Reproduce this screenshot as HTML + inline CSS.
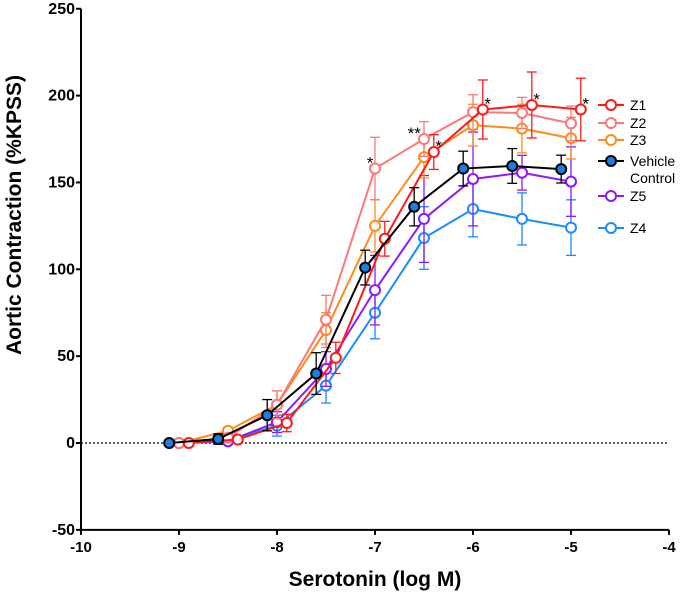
<!DOCTYPE html>
<html><head><meta charset="utf-8"><style>
body{margin:0;background:#fff;}
svg{display:block;font-family:"Liberation Sans",Arial,sans-serif;}
</style></head><body>
<svg id="chart" width="685" height="597" viewBox="0 0 685 597"></svg>
<script>
const xTicks=[-10,-9,-8,-7,-6,-5,-4];
const yTicks=[-50,0,50,100,150,200,250];
const doses=[-9,-8.5,-8,-7.5,-7,-6.5,-6,-5.5,-5];
const seriesNames=["Z1","Z2","Z3","Vehicle","Z5","Z4"];
const seriesColors=["#ff1a1a","#f97a7a","#ff8c1a","#000000","#8a1aff","#1a8cff"];
const seriesOffsets=[0.1,0,0,-0.1,0,0];
const z1Values=[0,2,11.5,49,117.6,167.5,192,194.6,192];
const z2Values=[0,3,22,71,158,175,190.5,190,184];
const z3Values=[0,7,22,65,125,164.6,183,181,175.5];
const vehicleValues=[0,2.3,16,40,101,136,158,159.5,157.7];
const z5Values=[0,1,12,42.6,88,129,152,155.6,150.5];
const z4Values=[0,1,10,33,75,118,134.7,129,124];
const z1Err=[0,1,5,9,10,10,17,19,18];
const z2Err=[0,2,8,14,18,10,10,9,10];
const z3Err=[0,2,8,10,15,12,12,14,12];
const vehicleErr=[0,3,9,12,10,11,10,10,8];
const z5Err=[0,1,6,10,20,25,27,10,20];
const z4Err=[0,1,6,10,15,18,16,15,16];
const stars=[{s:"*",x:-7.05,v:158},{s:"**",x:-6.6,v:175},{s:"*",x:-6.35,v:167.5},{s:"*",x:-5.85,v:192},{s:"*",x:-5.35,v:194.6},{s:"*",x:-4.85,v:192}];
const allVals=[z1Values,z2Values,z3Values,vehicleValues,z5Values,z4Values];
const allErr=[z1Err,z2Err,z3Err,vehicleErr,z5Err,z4Err];
const NS="http://www.w3.org/2000/svg";
const svg=document.getElementById("chart");
const X=v=>81+(v+10)*98;
const Y=v=>443-v*1.737;
function el(t,a,p){const e=document.createElementNS(NS,t);for(const k in a)e.setAttribute(k,a[k]);(p||svg).appendChild(e);return e;}
let ax=el("line",{x1:81,y1:Y(250),x2:81,y2:Y(-50),stroke:"#000","stroke-width":2});


ax=el("line",{x1:81,y1:Y(-50),x2:X(-4),y2:Y(-50),stroke:"#000","stroke-width":2});


xTicks.forEach(t=>{
 el("line",{x1:X(t),y1:Y(-50),x2:X(t),y2:Y(-50)+5,stroke:"#000","stroke-width":2});
 const tx=el("text",{x:X(t),y:Y(-50)+22,"text-anchor":"middle","font-size":15,"font-weight":"bold"});
 tx.textContent=t;
 
 
});
yTicks.forEach(t=>{
 el("line",{x1:76,y1:Y(t),x2:81,y2:Y(t),stroke:"#000","stroke-width":2});
 const tx=el("text",{x:75,y:Y(t)+5,"text-anchor":"end","font-size":16,"font-weight":"bold"});
 tx.textContent=t;
 
 
});
const zl=el("line",{x1:81,y1:Y(0),x2:X(-4),y2:Y(0),stroke:"#000","stroke-width":1.3,"stroke-dasharray":"2,2"});


let t=el("text",{x:375,y:586,"text-anchor":"middle","font-size":21,"font-weight":"bold"});
t.textContent="Serotonin (log M)";


t=el("text",{x:0,y:0,"text-anchor":"middle","font-size":21,"font-weight":"bold",transform:"translate(21,215) rotate(-90)"});
t.textContent="Aortic Contraction (%KPSS)";


[5,4,2,1,0,3].forEach(i=>{
 const g=el("g",{});
 
 
 const c=seriesColors[i],vals=allVals[i],err=allErr[i];
 const xs=doses.map(d=>X(d+seriesOffsets[i]));
 vals.forEach((v,j)=>{
  if(err[j]<1.5)return;
  const x=xs[j];
  el("line",{x1:x,y1:Y(v-err[j]),x2:x,y2:Y(v+err[j]),stroke:c,"stroke-width":1.3},g);
  el("line",{x1:x-5,y1:Y(v-err[j]),x2:x+5,y2:Y(v-err[j]),stroke:c,"stroke-width":1.3},g);
  el("line",{x1:x-5,y1:Y(v+err[j]),x2:x+5,y2:Y(v+err[j]),stroke:c,"stroke-width":1.3},g);
 });
 el("polyline",{points:vals.map((v,j)=>xs[j]+","+Y(v)).join(" "),fill:"none",stroke:c,"stroke-width":2},g);
 vals.forEach((v,j)=>{
  const p=el("circle",{cx:xs[j],cy:Y(v),r:5,fill:i===3?"#1a7fe0":"#fff",stroke:c,"stroke-width":2},g);
  
  
 });
});
stars.forEach(s=>{
 const tx=el("text",{x:X(s.x),y:Y(s.v),"text-anchor":"middle","font-size":17});
 tx.textContent=s.s;
 
 
});
const legY=[105,123,140,161,196,228];
[0,1,2,3,4,5].forEach((i,k)=>{
 const g=el("g",{});
 
 
 const y=legY[k],c=seriesColors[i];
 el("line",{x1:598,y1:y,x2:624,y2:y,stroke:c,"stroke-width":2},g);
 el("circle",{cx:611,cy:y,r:5,fill:i===3?"#1a7fe0":"#fff",stroke:c,"stroke-width":2},g);
 const tx=el("text",{x:630,y:y+5,"font-size":14},g);
 tx.textContent=i===3?"Vehicle":seriesNames[i];
 if(i===3){const t2=el("text",{x:630,y:y+22,"font-size":14},g);t2.textContent="Control";}
});
</script>
</body></html>
